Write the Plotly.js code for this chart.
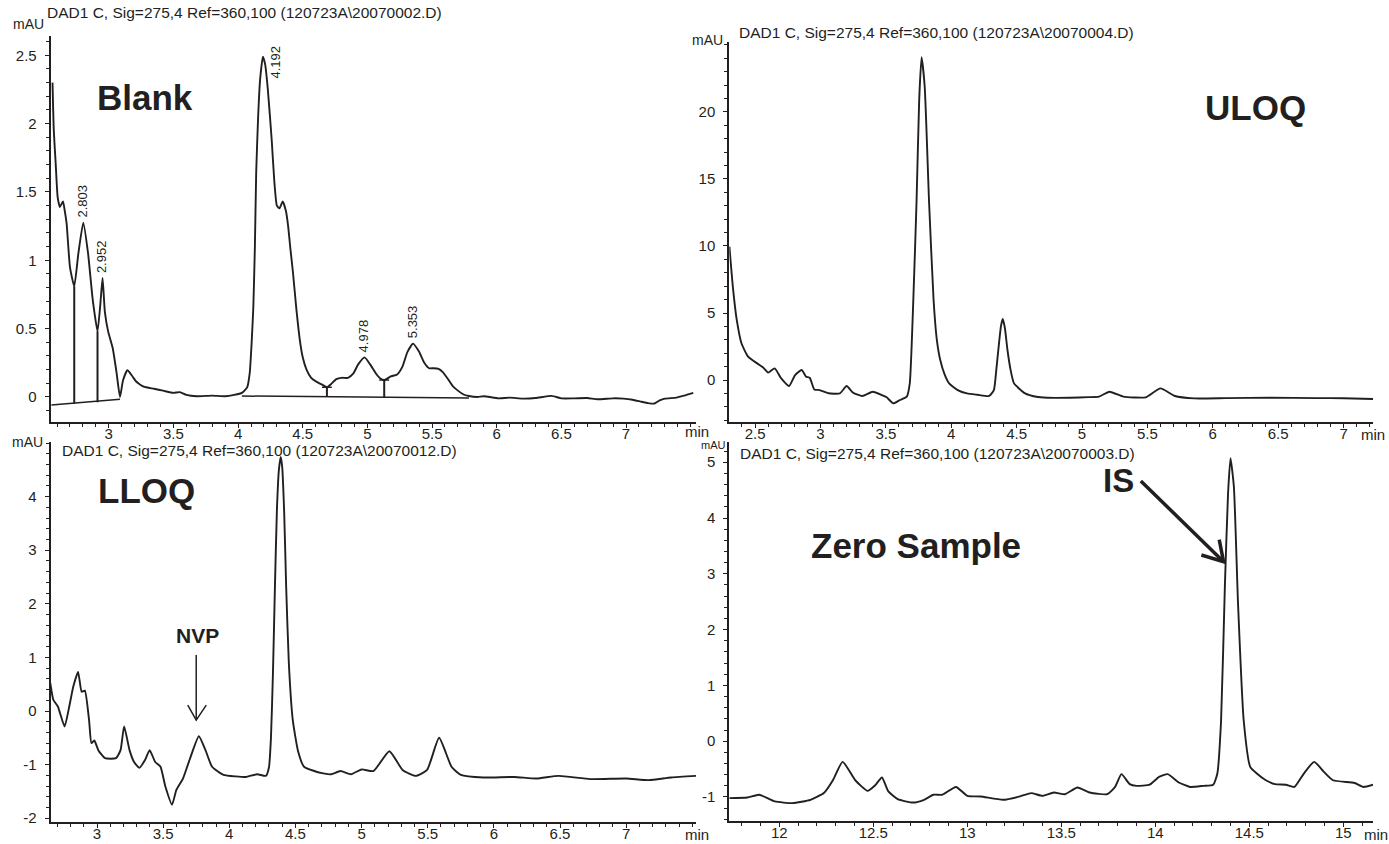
<!DOCTYPE html>
<html><head><meta charset="utf-8">
<script src="https://cdn.plot.ly/plotly-3.0.1.min.js"></script>
<style>html,body{margin:0;padding:0;background:#fff}#chart{width:1389px;height:844px}</style>
</head><body><div id="chart"></div>
<script>
// ---------------- DATA ----------------
// Blank chromatogram (min, mAU)
const blankTime = [2.565, 2.575, 2.59, 2.605, 2.622, 2.646, 2.66, 2.674, 2.70, 2.733,
  2.765, 2.803, 2.84, 2.875, 2.913, 2.935, 2.952, 2.97, 2.995, 3.03,
  3.06, 3.087, 3.11, 3.144, 3.18, 3.21, 3.27, 3.35, 3.42, 3.50,
  3.55, 3.60, 3.68, 3.80, 3.90, 3.97, 4.03, 4.07, 4.09, 4.105,
  4.118, 4.13, 4.14, 4.155, 4.17, 4.192, 4.21, 4.23, 4.26, 4.28,
  4.30, 4.32, 4.345, 4.37, 4.387, 4.405, 4.425, 4.45, 4.477, 4.50,
  4.53, 4.565, 4.605, 4.65, 4.687, 4.72, 4.76, 4.80, 4.85, 4.89,
  4.93, 4.978, 5.02, 5.067, 5.10, 5.13, 5.18, 5.23, 5.27, 5.31,
  5.353, 5.40, 5.44, 5.477, 5.51, 5.55, 5.585, 5.62, 5.66, 5.695,
  5.74, 5.785, 5.85, 5.90, 6.015, 6.10, 6.20, 6.30, 6.425, 6.50,
  6.60, 6.70, 6.78, 6.90, 6.98, 7.05, 7.12, 7.17, 7.22, 7.26,
  7.30, 7.39, 7.45, 7.52];
const blankSignal = [2.30, 1.95, 1.70, 1.46, 1.39, 1.43, 1.36, 1.27, 0.95, 0.81,
  1.05, 1.275, 1.05, 0.72, 0.48, 0.68, 0.87, 0.62, 0.48, 0.36,
  0.18, 0.0, 0.12, 0.195, 0.155, 0.115, 0.075, 0.06, 0.046, 0.03,
  0.035, 0.015, 0.005, 0.01, 0.005, 0.015, 0.03, 0.07, 0.175, 0.40,
  0.66, 1.10, 1.64, 2.05, 2.32, 2.49, 2.43, 2.25, 1.88, 1.58,
  1.40, 1.38, 1.43, 1.36, 1.25, 1.08, 0.905, 0.65, 0.42, 0.29,
  0.198, 0.14, 0.112, 0.09, 0.071, 0.095, 0.13, 0.14, 0.14, 0.17,
  0.24, 0.29, 0.24, 0.17, 0.135, 0.124, 0.15, 0.165, 0.22, 0.33,
  0.39, 0.33, 0.25, 0.21, 0.21, 0.205, 0.18, 0.135, 0.08, 0.05,
  0.02, 0.007, 0.0, 0.005, -0.01, -0.005, -0.012, -0.008, 0.008, -0.01,
  -0.01, -0.008, -0.017, -0.01, -0.012, -0.02, -0.035, -0.045, -0.048, -0.025,
  -0.012, -0.005, 0.01, 0.03];
// Blank integration marks
const blankDropTime = [2.733, 2.913, 4.687, 5.13];
const blankDropTop = [0.81, 0.48, 0.071, 0.124];
const blankDropBase = [-0.05, -0.039, 0.002, -0.005];
const blankBaseTime = [2.556, 3.087, null, 4.03, 5.785];
const blankBaseSignal = [-0.059, -0.017, null, 0.007, -0.008];
const blankPeakTime = [2.803, 2.952, 4.978, 5.353];
const blankPeakHeight = [1.275, 0.87, 0.29, 0.39];
const blankPeakLabel = ['2.803', '2.952', '4.978', '5.353'];
const blankMainPeakTime = 4.192, blankMainPeakLabel = '4.192';

// ULOQ chromatogram
const uloqTime = [2.304, 2.33, 2.36, 2.396, 2.447, 2.516, 2.56, 2.60, 2.65, 2.70,
  2.76, 2.806, 2.857, 2.89, 2.918, 2.953, 2.994, 3.062, 3.148, 3.20,
  3.25, 3.32, 3.40, 3.47, 3.506, 3.557, 3.608, 3.66, 3.683, 3.71,
  3.735, 3.755, 3.773, 3.797, 3.83, 3.865, 3.89, 3.916, 3.95, 3.984,
  4.05, 4.12, 4.20, 4.29, 4.326, 4.345, 4.36, 4.38, 4.394, 4.41,
  4.43, 4.455, 4.48, 4.565, 4.65, 4.735, 4.907, 5.05, 5.13, 5.21,
  5.316, 5.40, 5.487, 5.60, 5.71, 5.86, 6.1, 6.44, 6.8, 7.0, 7.225];
const uloqSignal = [9.95, 6.97, 4.48, 2.74, 1.74, 1.24, 0.95, 0.55, 0.87, 0.12,
  -0.45, 0.37, 0.75, 0.25, 0.17, -0.70, -0.75, -0.99, -1.0, -0.45,
  -0.95, -1.19, -0.87, -1.12, -1.29, -1.74, -1.49, -1.24, -0.25, 5.97,
  13.4, 20.9, 24.08, 21.9, 13.4, 5.97, 3.0, 1.49, 0.4, -0.25,
  -0.75, -1.0, -1.1, -1.19, -0.75, 0.8, 2.24, 4.0, 4.55, 3.9,
  2.24, 0.7, -0.25, -1.0, -1.25, -1.32, -1.32, -1.28, -1.24, -0.87,
  -1.24, -1.30, -1.29, -0.62, -1.19, -1.37, -1.35, -1.32, -1.35, -1.36, -1.42];

// LLOQ chromatogram
const lloqTime = [2.647, 2.67, 2.705, 2.755, 2.79, 2.82, 2.857, 2.884, 2.908, 2.94,
  2.958, 2.98, 3.01, 3.06, 3.144, 3.178, 3.205, 3.246, 3.28, 3.32,
  3.364, 3.398, 3.44, 3.48, 3.517, 3.567, 3.60, 3.65, 3.70, 3.77,
  3.82, 3.87, 3.956, 4.05, 4.125, 4.21, 4.277, 4.30, 4.315, 4.33,
  4.345, 4.36, 4.375, 4.389, 4.40, 4.415, 4.43, 4.45, 4.48, 4.52,
  4.565, 4.70, 4.77, 4.84, 4.92, 5.00, 5.09, 5.21, 5.31, 5.41,
  5.495, 5.586, 5.68, 5.75, 5.92, 6.155, 6.32, 6.49, 6.73, 7.00,
  7.17, 7.34, 7.528];
const lloqSignal = [0.52, 0.21, 0.08, -0.29, 0.08, 0.45, 0.73, 0.36, 0.38, -0.17,
  -0.60, -0.55, -0.73, -0.88, -0.88, -0.73, -0.29, -0.73, -0.95, -1.06,
  -0.91, -0.73, -0.95, -1.04, -1.41, -1.75, -1.47, -1.26, -0.91, -0.47,
  -0.73, -1.04, -1.19, -1.22, -1.23, -1.18, -1.21, -1.05, -0.5, 0.7,
  2.32, 3.75, 4.5, 4.74, 4.55, 3.7, 2.32, 0.9, -0.17, -0.75,
  -1.04, -1.16, -1.18, -1.12, -1.18, -1.09, -1.12, -0.75, -1.10, -1.21,
  -1.10, -0.50, -1.04, -1.19, -1.24, -1.23, -1.26, -1.21, -1.27, -1.26,
  -1.29, -1.24, -1.21];

// Zero sample chromatogram
const zeroTime = [11.734, 11.83, 11.893, 11.976, 12.07, 12.166, 12.237, 12.285, 12.337, 12.404,
  12.47, 12.51, 12.546, 12.58, 12.63, 12.712, 12.77, 12.82, 12.866, 12.94,
  13.0, 13.07, 13.19, 13.28, 13.34, 13.40, 13.46, 13.52, 13.586, 13.65,
  13.745, 13.786, 13.82, 13.864, 13.90, 13.97, 14.02, 14.066, 14.125, 14.185,
  14.256, 14.308, 14.33, 14.35, 14.37, 14.387, 14.40, 14.418, 14.44, 14.47,
  14.505, 14.54, 14.588, 14.636, 14.695, 14.74, 14.79, 14.845, 14.897, 14.945,
  15.06, 15.107, 15.158];
const zeroSignal = [-1.02, -1.01, -0.96, -1.08, -1.11, -1.05, -0.93, -0.70, -0.37, -0.70,
  -0.89, -0.79, -0.65, -0.90, -1.04, -1.10, -1.05, -0.96, -0.96, -0.82,
  -0.98, -0.99, -1.05, -0.99, -0.93, -0.98, -0.92, -0.95, -0.83, -0.92,
  -0.95, -0.82, -0.59, -0.77, -0.80, -0.78, -0.64, -0.59, -0.74, -0.82,
  -0.80, -0.78, -0.58, 0.38, 2.77, 4.44, 5.07, 4.56, 2.47, 0.38,
  -0.46, -0.58, -0.70, -0.77, -0.78, -0.82, -0.58, -0.37, -0.55, -0.70,
  -0.75, -0.82, -0.78];

// Tick labels
const blankXTicks = [3, 3.5, 4, 4.5, 5, 5.5, 6, 6.5, 7];
const blankXText = ['3', '3.5', '4', '4.5', '5', '5.5', '6', '6.5', '7'];
const blankYTicks = [0, 0.5, 1, 1.5, 2, 2.5];
const blankYText = ['0', '0.5', '1', '1.5', '2', '2.5'];
const uloqXTicks = [2.5, 3, 3.5, 4, 4.5, 5, 5.5, 6, 6.5, 7];
const uloqXText = ['2.5', '3', '3.5', '4', '4.5', '5', '5.5', '6', '6.5', '7'];
const uloqYTicks = [0, 5, 10, 15, 20];
const uloqYText = ['0', '5', '10', '15', '20'];
const lloqXTicks = [3, 3.5, 4, 4.5, 5, 5.5, 6, 6.5, 7];
const lloqXText = ['3', '3.5', '4', '4.5', '5', '5.5', '6', '6.5', '7'];
const lloqYTicks = [-2, -1, 0, 1, 2, 3, 4];
const lloqYText = ['-2', '-1', '0', '1', '2', '3', '4'];
const zeroXTicks = [12, 12.5, 13, 13.5, 14, 14.5, 15];
const zeroXText = ['12', '12.5', '13', '13.5', '14', '14.5', '15'];
const zeroYTicks = [-1, 0, 1, 2, 3, 4, 5];
const zeroYText = ['-1', '0', '1', '2', '3', '4', '5'];

const signalTitles = [
  'DAD1 C, Sig=275,4 Ref=360,100 (120723A\\20070002.D)',
  'DAD1 C, Sig=275,4 Ref=360,100 (120723A\\20070004.D)',
  'DAD1 C, Sig=275,4 Ref=360,100 (120723A\\20070012.D)',
  'DAD1 C, Sig=275,4 Ref=360,100 (120723A\\20070003.D)'];
const panelNames = ['Blank', 'ULOQ', 'LLOQ', 'Zero Sample'];

// ---------------- LAYOUT ----------------
const W = 1389, H = 844;
const INK = '#231f20';
const FONT = 'Liberation Sans, Arial, Helvetica, sans-serif';
const dX = (a, b) => [a / W, b / W];
const dY = (top, bottom) => [1 - bottom / H, 1 - top / H];
const px = v => v / W, py = v => 1 - v / H;

function xAxis(domain, range, anchor, vals, text) {
  return {domain, range, anchor, tickmode: 'array', tickvals: vals, ticktext: text,
    ticks: 'outside', ticklen: 4, tickwidth: 1, tickcolor: INK,
    showline: true, linecolor: INK, linewidth: 2, showgrid: false, zeroline: false,
    tickfont: {family: FONT, size: 15, color: INK}, ticklabelstandoff: -7,
    minor: {tickmode: 'linear', tick0: 0, dtick: 0.1, ticks: 'outside', ticklen: 3,
      tickwidth: 1, tickcolor: INK, showgrid: false}, fixedrange: true};
}
function yAxis(domain, range, anchor, vals, text, minorStep) {
  return {domain, range, anchor, tickmode: 'array', tickvals: vals, ticktext: text,
    ticks: 'outside', ticklen: 4, tickwidth: 1, tickcolor: INK,
    showline: true, linecolor: INK, linewidth: 2, showgrid: false, zeroline: false,
    tickfont: {family: FONT, size: 15, color: INK}, ticklabelstandoff: 5,
    minor: {tickmode: 'linear', tick0: 0, dtick: minorStep, ticks: 'outside', ticklen: 3,
      tickwidth: 1, tickcolor: INK, showgrid: false}, fixedrange: true};
}

const lineStyle = {color: INK, width: 1.9, shape: 'spline', smoothing: 0.5};

// drop lines built from arrays
const dropX = [], dropY = [];
blankDropTime.forEach((t, i) => { dropX.push(t, t, null); dropY.push(blankDropTop[i], blankDropBase[i], null); });
const capIdx = blankDropTime.map((t, i) => i).filter(i => blankDropTime[i] > 4);

const traces = [
  {x: blankTime, y: blankSignal, xaxis: 'x', yaxis: 'y', mode: 'lines', line: lineStyle, hoverinfo: 'skip'},
  {x: blankBaseTime, y: blankBaseSignal, xaxis: 'x', yaxis: 'y', mode: 'lines', line: {color: INK, width: 1.5}, hoverinfo: 'skip'},
  {x: dropX, y: dropY, xaxis: 'x', yaxis: 'y', mode: 'lines', line: {color: INK, width: 2}, hoverinfo: 'skip'},
  {x: capIdx.map(i => blankDropTime[i]), y: capIdx.map(i => blankDropTop[i]), xaxis: 'x', yaxis: 'y', mode: 'markers',
    marker: {symbol: 'line-ew-open', size: 7, color: INK, line: {color: INK, width: 1.5}}, hoverinfo: 'skip'},
  {x: uloqTime, y: uloqSignal, xaxis: 'x2', yaxis: 'y2', mode: 'lines', line: lineStyle, hoverinfo: 'skip'},
  {x: lloqTime, y: lloqSignal, xaxis: 'x3', yaxis: 'y3', mode: 'lines', line: lineStyle, hoverinfo: 'skip'},
  {x: zeroTime, y: zeroSignal, xaxis: 'x4', yaxis: 'y4', mode: 'lines', line: lineStyle, hoverinfo: 'skip'}
];

function txt(x, y, text, size, opts) {
  return Object.assign({xref: 'paper', yref: 'paper', x: px(x), y: py(y), text, showarrow: false,
    xanchor: 'left', yanchor: 'middle', font: {family: FONT, size, color: INK}}, opts || {});
}

const annotations = [
  txt(45, 12, signalTitles[0], 15.5),
  txt(737, 33, signalTitles[1], 15.5),
  txt(60, 450, signalTitles[2], 15.5),
  txt(738, 453, signalTitles[3], 15.5),
  txt(46, 24, 'mAU', 14, {xanchor: 'right'}),
  txt(725, 40, 'mAU', 14, {xanchor: 'right'}),
  txt(45, 442, 'mAU', 14, {xanchor: 'right'}),
  txt(728, 445, 'mAU', 11, {xanchor: 'right'}),
  txt(683, 432, 'min', 15),
  txt(1359, 434, 'min', 15),
  txt(683, 834, 'min', 15),
  txt(1362, 834, 'min', 15),
  txt(145, 97, '<b>' + panelNames[0] + '</b>', 35, {xanchor: 'center'}),
  txt(1255, 107, '<b>' + panelNames[1] + '</b>', 35, {xanchor: 'center'}),
  txt(146, 490, '<b>' + panelNames[2] + '</b>', 35, {xanchor: 'center'}),
  txt(916, 545, '<b>' + panelNames[3] + '</b>', 35, {xanchor: 'center'}),
  txt(197, 635, '<b>NVP</b>', 21, {xanchor: 'center'}),
  txt(1118, 480, '<b>IS</b>', 33, {xanchor: 'center'})
];
blankPeakTime.forEach((t, i) => {
  annotations.push({xref: 'x', yref: 'y', x: t, y: blankPeakHeight[i], text: blankPeakLabel[i], showarrow: false,
    textangle: -90, xanchor: 'center', yanchor: 'bottom', yshift: 3, xshift: -1,
    font: {family: FONT, size: 13, color: INK}});
});
annotations.push({xref: 'x', yref: 'y', x: blankMainPeakTime, y: 2.49, text: blankMainPeakLabel, showarrow: false,
  textangle: -90, xanchor: 'left', yanchor: 'top', xshift: 3, yshift: 13,
  font: {family: FONT, size: 13, color: INK}});

const shapes = [
  {type: 'line', xref: 'x3', yref: 'y3', x0: 3.75, y0: 1.045, x1: 3.75, y1: -0.17, line: {color: INK, width: 1.5}},
  {type: 'path', xref: 'x3', yref: 'y3', path: 'M3.686,0.11 L3.75,-0.17 L3.826,0.11', line: {color: INK, width: 1.5}},
  {type: 'line', xref: 'x4', yref: 'y4', x0: 13.923, y0: 4.663, x1: 14.363, y1: 3.217, line: {color: INK, width: 3.5}},
  {type: 'path', xref: 'x4', yref: 'y4', path: 'M14.245,3.337 L14.363,3.217 L14.34,3.613', line: {color: INK, width: 3.5}}
];

const layout = {
  width: W, height: H, margin: {l: 0, r: 0, t: 0, b: 0},
  paper_bgcolor: '#ffffff', plot_bgcolor: '#ffffff', showlegend: false,
  font: {family: FONT, color: INK},
  xaxis: xAxis(dX(50.7, 696), [2.551, 7.541], 'y', blankXTicks, blankXText),
  yaxis: yAxis(dY(36, 421.7), [-0.181, 2.641], 'x', blankYTicks, blankYText, 0.1),
  xaxis2: xAxis(dX(729.3, 1373), [2.303, 7.225], 'y2', uloqXTicks, uloqXText),
  yaxis2: yAxis(dY(42, 421.7), [-3.11, 25.22], 'x2', uloqYTicks, uloqYText, 1),
  xaxis3: xAxis(dX(50.7, 696), [2.65, 7.528], 'y3', lloqXTicks, lloqXText),
  yaxis3: yAxis(dY(442, 821.7), [-2.065, 5.019], 'x3', lloqYTicks, lloqYText, 0.2),
  xaxis4: xAxis(dX(729.3, 1373), [11.734, 15.158], 'y4', zeroXTicks, zeroXText),
  yaxis4: yAxis(dY(442, 820.7), [-1.425, 5.362], 'x4', zeroYTicks, zeroYText, 0.2),
  annotations, shapes
};

Plotly.newPlot('chart', traces, layout, {displayModeBar: false, staticPlot: true});
</script></body></html>
